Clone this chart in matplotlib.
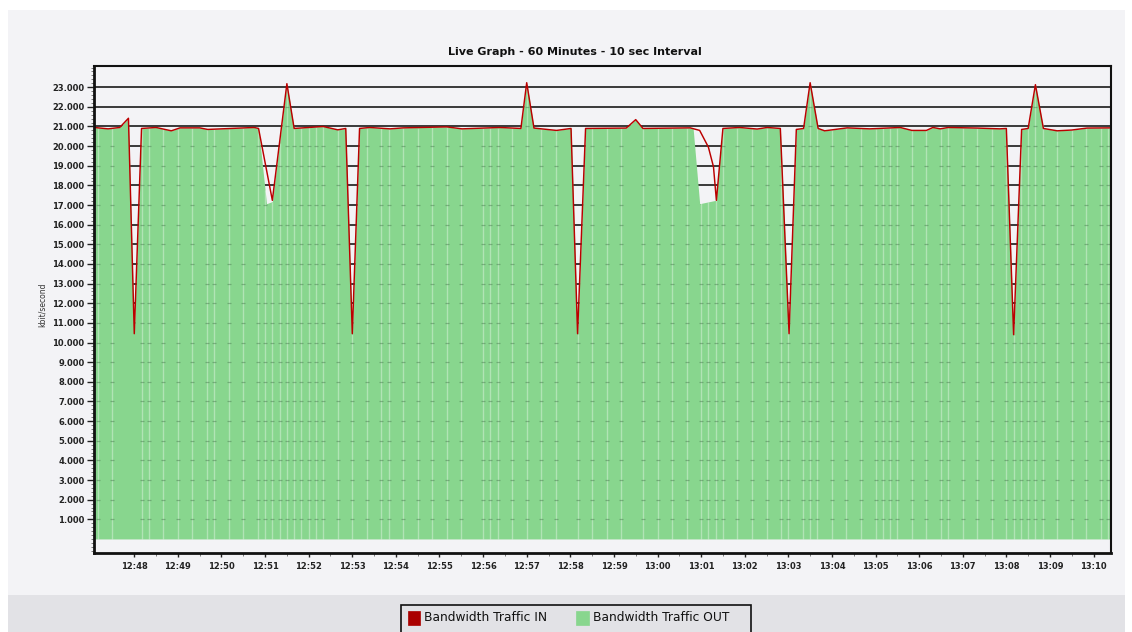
import numpy as np
import matplotlib
matplotlib.use("Agg")
import matplotlib.pyplot as plt
from matplotlib.patches import Rectangle
from matplotlib.ticker import FuncFormatter, FixedLocator, MultipleLocator

# ---------------- data ----------------
title = "Live Graph - 60 Minutes - 10 sec Interval"
y_label = "kbit/second"
series_names = ["Bandwidth Traffic IN", "Bandwidth Traffic OUT"]
minute_labels = ["12:48", "12:49", "12:50", "12:51", "12:52", "12:53", "12:54",
                 "12:55", "12:56", "12:57", "12:58", "12:59", "13:00", "13:01",
                 "13:02", "13:03", "13:04", "13:05", "13:06", "13:07", "13:08",
                 "13:09", "13:10"]

# seconds relative to 12:48:00
t_in = [-55, -36, -20, -8, 0, 10, 30, 51, 63, 90, 101, 165, 171, 190, 210, 220,
        260, 280, 291, 300, 310, 324, 352, 370, 430, 451, 503, 532, 540, 550,
        581, 601, 610, 621, 677, 690, 700, 765, 778, 790, 797, 801, 810, 833,
        857, 871, 889, 901, 911, 921, 930, 941, 950, 981, 1012, 1054, 1070,
        1090, 1099, 1109, 1120, 1160, 1191, 1200, 1210, 1221, 1230, 1240, 1251,
        1270, 1290, 1311, 1344]
v_in = [20950, 20880, 20950, 21420, 10450, 20900, 20950, 20780, 20930, 20930,
        20850, 20950, 20900, 17240, 23180, 20900, 21000, 20830, 20900, 10450,
        20900, 20950, 20880, 20930, 20980, 20880, 20950, 20900, 23230, 20920,
        20800, 20900, 10450, 20900, 20920, 21350, 20900, 20930, 20800, 19950,
        18950, 17240, 20900, 20950, 20870, 20950, 20900, 10450, 20850, 20900,
        23230, 20900, 20780, 20930, 20880, 20950, 20800, 20800, 20950, 20880,
        20950, 20920, 20880, 20900, 10400, 20850, 20900, 23130, 20900, 20780,
        20820, 20920, 20930]

t_out = [-55, -36, -20, -8, 0, 10, 30, 51, 63, 90, 101, 165, 171, 182, 190, 210,
         220, 260, 280, 291, 300, 310, 324, 352, 370, 430, 451, 503, 532, 540,
         550, 581, 601, 610, 621, 677, 690, 700, 765, 769, 778, 800, 810, 833,
         857, 871, 889, 901, 911, 921, 930, 941, 950, 981, 1012, 1054, 1070,
         1090, 1099, 1109, 1120, 1160, 1191, 1200, 1210, 1221, 1230, 1240, 1251,
         1270, 1290, 1311, 1344]
v_out = [20950, 20880, 20950, 21420, 10450, 20900, 20950, 20780, 20930, 20930,
         20850, 20950, 20900, 17070, 17180, 23180, 20900, 21000, 20830, 20900,
         10450, 20900, 20950, 20880, 20930, 20980, 20880, 20950, 20900, 23230,
         20920, 20800, 20900, 10450, 20900, 20920, 21350, 20900, 20930, 20900,
         17070, 17240, 20900, 20950, 20870, 20950, 20900, 10450, 20850, 20900,
         23230, 20900, 20780, 20930, 20880, 20950, 20800, 20800, 20950, 20880,
         20950, 20920, 20880, 20900, 10400, 20850, 20900, 23130, 20900, 20780,
         20820, 20920, 20930]

# sample marker positions (light vertical lines inside the area), seconds
sample_marks_s = [-50, -30, 10, 20, 40, 60, 80, 100, 110, 130, 150, 170, 180, 190,
                  200, 210, 220, 230, 240, 250, 260, 280, 300, 320, 340, 350, 370,
                  390, 410, 430, 450, 480, 490, 500, 520, 540, 560, 580, 610, 630,
                  650, 670, 700, 720, 740, 760, 780, 790, 800, 810, 830, 850, 870,
                  890, 900, 920, 930, 940, 960, 980, 1000, 1020, 1030, 1040, 1050,
                  1070, 1090, 1110, 1120, 1140, 1160, 1180, 1200, 1210, 1220, 1230,
                  1240, 1250, 1270, 1290, 1310, 1330, 1340]

# ---------------- style ----------------
W, H = 1132, 632
PANEL = "#f3f3f6"
BAND = "#e2e2e6"
GREEN = "#88d68e"
RED = "#bb0000"
RED_KEY = "#aa0000"

fig = plt.figure(figsize=(W / 100, H / 100), dpi=100, facecolor="white")

def fx(px):
    return px / W

def fy(py):
    return 1 - py / H

panel = Rectangle((fx(8), fy(595)), fx(1125) - fx(8), fy(10) - fy(595),
                  transform=fig.transFigure, facecolor=PANEL, edgecolor="none",
                  zorder=-10)
band = Rectangle((fx(8), 0), fx(1125) - fx(8), fy(595),
                 transform=fig.transFigure, facecolor=BAND, edgecolor="none",
                 zorder=-10)
fig.add_artist(panel)
fig.add_artist(band)

ax = fig.add_axes([fx(94.3), fy(552.7), fx(1111) - fx(94.3), fy(66) - fy(552.7)])
ax.set_facecolor(PANEL)
ax.set_zorder(1)

ax.set_xlim(t_in[0], t_in[-1])
ax.set_ylim(-700, 24080)

# gridlines behind area
major_y = np.arange(1000, 24000, 1000)
for yv in major_y:
    ax.axhline(yv, color="#1a1a1a", lw=1.2, zorder=1)

ax.fill_between(t_out, 0, v_out, color=GREEN, lw=0, zorder=2)

# light sample lines inside the area
out_at_marks = np.interp(sample_marks_s, t_out, v_out)
ax.vlines(sample_marks_s, 0, out_at_marks, color="white", alpha=0.35, lw=1.0, zorder=3)
# faint grid dots where sample lines cross gridlines inside area
mx, my = np.meshgrid(sample_marks_s, major_y)
inside = my < np.interp(mx, t_out, v_out) - 300
ax.plot(mx[inside], my[inside], ls="none", marker="_", ms=2.2, mew=0.9,
        color="#4f7f54", alpha=0.5, zorder=3)

ax.plot(t_in, v_in, color=RED, lw=1.05, zorder=4)

# ticks
ax.yaxis.set_major_locator(FixedLocator(major_y))
ax.yaxis.set_minor_locator(MultipleLocator(200))
ax.yaxis.set_major_formatter(FuncFormatter(lambda v, p: f"{int(v):,}".replace(",", ".")))
minute_pos = np.arange(len(minute_labels)) * 60
ax.xaxis.set_major_locator(FixedLocator(minute_pos))
ax.set_xticklabels(minute_labels)
ax.xaxis.set_minor_locator(FixedLocator(minute_pos[:-1] + 30))

ax.tick_params(axis="y", which="major", length=5, width=1, color="#222222",
               labelsize=6, labelcolor="#222222", pad=2)
ax.tick_params(axis="x", which="major", length=3, width=1, color="#222222",
               labelsize=6, labelcolor="#222222", pad=4)
ax.tick_params(axis="both", which="minor", length=2.5, width=0.6, color="#666666")
for lab in ax.get_xticklabels() + ax.get_yticklabels():
    lab.set_fontweight("bold")
    lab.set_family("DejaVu Sans")

for s in ax.spines.values():
    s.set_color("#111111")
    s.set_linewidth(1.5)
    s.set_zorder(5)
ax.spines["bottom"].set_linewidth(2)
ax.spines["left"].set_linewidth(2)

ax.set_ylabel(y_label, fontsize=5.5, color="#333333")
ax.yaxis.set_label_coords((47 - 94.3) / (1111 - 94.3), (552.7 - 305) / (552.7 - 66))

fig.text(fx(575), fy(52), title, ha="center", va="center", fontsize=8,
         fontweight="bold", color="#111111")

# legend box (drawn by hand so its frame can run off the bottom edge)
frame = Rectangle((fx(400.5), fy(645)), fx(750.5) - fx(400.5), fy(604.5) - fy(645),
                  transform=fig.transFigure, facecolor=BAND, edgecolor="#111111",
                  lw=1.2, zorder=2)
fig.add_artist(frame)
key_colors = [RED_KEY, GREEN]
key_left = [407.5, 576]
for name, col, xl in zip(series_names, key_colors, key_left):
    fig.add_artist(Rectangle((fx(xl), fy(624.5)), fx(xl + 13) - fx(xl), fy(611) - fy(624.5),
                             transform=fig.transFigure, facecolor=col,
                             edgecolor=col, lw=0.5, zorder=3))
    fig.text(fx(xl + 17), fy(617.5), name, ha="left", va="center", fontsize=8.8,
             color="#111111", zorder=3)

fig.savefig("out.png", dpi=100, facecolor=fig.get_facecolor())
